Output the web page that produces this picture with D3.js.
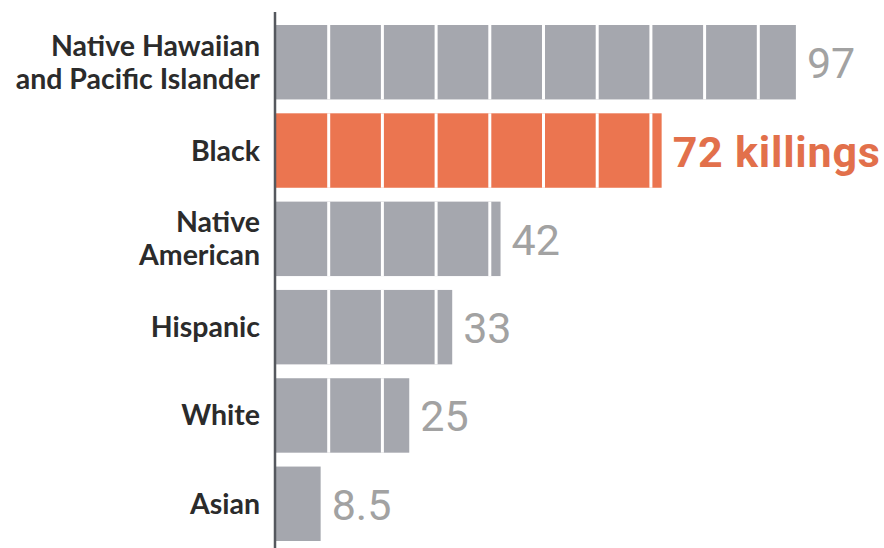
<!DOCTYPE html>
<html>
<head>
<meta charset="utf-8">
<script src="https://cdn.jsdelivr.net/npm/d3@7"></script>
<style>
  body { margin: 0; background: #fff; }
  svg { display: block; }
</style>
</head>
<body>
<script>
// data
var groups = ["Native Hawaiian|and Pacific Islander", "Black", "Native|American", "Hispanic", "White", "Asian"];
var killings = [97, 72, 42, 33, 25, 8.5];
var valueLabels = ["97", "72 killings", "42", "33", "25", "8.5"];
var highlight = "Black";
var segmentTicks = [10, 20, 30, 40, 50, 60, 70, 80, 90];

var width = 884, height = 548;
var grey = "#a5a7ae", orange = "#eb7550";

var svg = d3.select("body").append("svg")
  .attr("width", width)
  .attr("height", height);

var x = d3.scaleLinear().domain([0, 100]).range([275, 812]);
var y = d3.scaleBand().domain(groups).range([25, 541]).paddingInner(0.157).paddingOuter(0);

var rows = groups.map(function(g, i) { return { name: g, value: killings[i], label: valueLabels[i] }; });

// bars
svg.selectAll("rect.bar")
  .data(rows)
  .enter().append("rect")
  .attr("class", "bar")
  .attr("x", x(0))
  .attr("y", function(d) { return y(d.name); })
  .attr("width", function(d) { return x(d.value) - x(0); })
  .attr("height", y.bandwidth())
  .attr("fill", function(d) { return d.name == highlight ? orange : grey; });

// white lines every 10 killings
rows.forEach(function(d) {
  svg.selectAll(null)
    .data(segmentTicks.filter(function(t) { return t < d.value; }))
    .enter().append("line")
    .attr("x1", function(t) { return x(t); })
    .attr("x2", function(t) { return x(t); })
    .attr("y1", y(d.name))
    .attr("y2", y(d.name) + y.bandwidth())
    .attr("stroke", "#fff")
    .attr("stroke-width", 3);
});

// axis line
svg.append("line")
  .attr("x1", 275).attr("x2", 275)
  .attr("y1", 12).attr("y2", height)
  .attr("stroke", "#55585e")
  .attr("stroke-width", 2.5);

// category labels (may be two lines)
var cat = svg.selectAll("text.cat")
  .data(rows)
  .enter().append("text")
  .attr("class", "cat")
  .attr("text-anchor", "end")
  .attr("font-family", "Lato, sans-serif")
  .attr("font-weight", 700)
  .attr("font-size", 28.5)
  .attr("fill", "#2b2b2b");

cat.each(function(d) {
  var lines = d.name.split("|");
  var mid = y(d.name) + y.bandwidth() / 2;
  var first = mid + 10 - (lines.length - 1) * 16.5;
  d3.select(this).selectAll("tspan")
    .data(lines)
    .enter().append("tspan")
    .attr("x", 260)
    .attr("y", function(l, i) { return first + i * 33; })
    .text(function(l) { return l; });
});

// value labels
svg.selectAll("text.val")
  .data(rows)
  .enter().append("text")
  .attr("class", "val")
  .attr("x", function(d) { return x(d.value) + 11; })
  .attr("y", function(d) { return y(d.name) + y.bandwidth() / 2 + 16; })
  .attr("font-family", "Roboto, sans-serif")
  .attr("font-weight", function(d) { return d.name == highlight ? 700 : 400; })
  .attr("font-size", function(d) { return d.name == highlight ? 43 : 43; })
  .attr("letter-spacing", function(d) { return d.name == highlight ? 0.8 : 0; })
  .attr("fill", function(d) { return d.name == highlight ? "#e2704b" : "#a2a2a2"; })
  .text(function(d) { return d.label; });
</script>
</body>
</html>
